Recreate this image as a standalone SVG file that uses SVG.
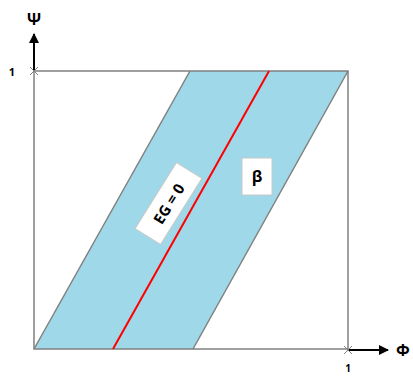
<svg xmlns="http://www.w3.org/2000/svg" width="413" height="376" viewBox="0 0 413 376">
<style>
.ln{stroke:#808080;stroke-width:1.5;fill:none}
.t{font-family:"Open Sans","Liberation Sans",sans-serif;font-weight:bold;fill:#000}
.lab{fill:#fff;stroke:#c8c8c8;stroke-width:1}
</style>
<defs>
<marker id="ah" viewBox="0 0 10 10" refX="9" refY="5" markerWidth="8" markerHeight="5" orient="auto" markerUnits="strokeWidth">
<path d="M0,0 L10,5 L0,10 z" fill="#000"/>
</marker>
</defs>
<rect width="413" height="376" fill="#fff"/>
<g id="band">
<polygon points="34,349 190,71 348,71 193,349" fill="#9fd9e9"/>
<line class="ln" x1="34" y1="349" x2="190" y2="71"/>
<line class="ln" x1="193" y1="349" x2="348" y2="71"/>
</g>
<g id="frame">
<rect class="ln" x="34" y="71" width="314" height="278"/>
</g>
<g id="connectors">
<line x1="34" y1="71" x2="34" y2="34" stroke="#000" stroke-width="2" marker-end="url(#ah)"/>
<line x1="348" y1="350" x2="388" y2="350" stroke="#000" stroke-width="2" marker-end="url(#ah)"/>
<line x1="113" y1="349" x2="269" y2="71" stroke="#ff0000" stroke-width="2"/>
<path d="M30,67 L38,75 M38,67 L30,75" stroke="#808080" stroke-width="1"/>
<path d="M344,346 L352,354 M352,346 L344,354" stroke="#808080" stroke-width="1"/>
</g>
<g id="axis-labels">
<text class="t" x="34" y="25" font-size="16" text-anchor="middle">Ψ</text>
<text class="t" x="12" y="76" font-size="11" text-anchor="middle">1</text>
<text class="t" x="403" y="356" font-size="16" text-anchor="middle">Φ</text>
<text class="t" x="348" y="372" font-size="10" text-anchor="middle">1</text>
</g>
<g id="eg0" transform="translate(168.5,203.5) rotate(-58)">
<rect class="lab" x="-39" y="-15" width="78" height="30"/>
<text class="t" x="0" y="6" font-size="15" text-anchor="middle">EG = 0</text>
</g>
<g id="beta">
<rect class="lab" x="242" y="158" width="30" height="37"/>
<text class="t" x="257" y="182" font-size="16" text-anchor="middle">β</text>
</g>
</svg>
